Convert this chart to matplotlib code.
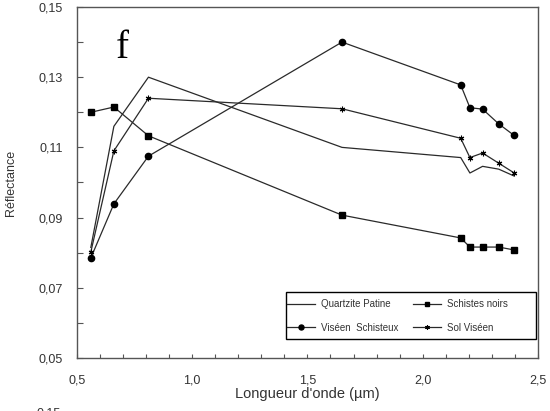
import matplotlib
matplotlib.use("Agg")
import matplotlib.pyplot as plt
from matplotlib.patches import Rectangle
from matplotlib.ticker import FixedLocator, MultipleLocator, FuncFormatter

# ASTER band centres (um) and reflectance of each surface
wavelength = [0.56, 0.66, 0.81, 1.65, 2.165, 2.205, 2.26, 2.33, 2.395]
quartzite_patine = [0.0815, 0.116, 0.130, 0.110, 0.1071, 0.1027, 0.1046, 0.1038, 0.1019]
schistes_noirs = [0.120, 0.1215, 0.1133, 0.0907, 0.0842, 0.0816, 0.0816, 0.0816, 0.0808]
viseen_schisteux = [0.0785, 0.0939, 0.1075, 0.140, 0.1278, 0.1213, 0.1209, 0.1167, 0.1135]
sol_viseen = [0.0802, 0.109, 0.124, 0.121, 0.1126, 0.1071, 0.1084, 0.1055, 0.1028]

y_major = [0.05, 0.07, 0.09, 0.11, 0.13, 0.15]
y_minor = [0.06, 0.08, 0.10, 0.12, 0.14]

line_col = "#2a2a2a"
axis_col = "#555555"
text_col = "#333333"

plt.rcParams["font.family"] = ["Liberation Sans", "DejaVu Sans"]

fig = plt.figure(figsize=(5.5, 4.11), dpi=100)
ax = fig.add_axes([0.14, 0.129, 0.838, 0.854])

l1, = ax.plot(wavelength, quartzite_patine, color=line_col, lw=0.9, label="Quartzite Patine")
l2, = ax.plot(wavelength, schistes_noirs, color=line_col, lw=0.9, marker="s", ms=4.2,
              mfc="black", mec="black", label="Schistes noirs")
l3, = ax.plot(wavelength, viseen_schisteux, color=line_col, lw=0.9, marker="o", ms=4.5,
              mfc="black", mec="black", label="Viséen  Schisteux")
l4, = ax.plot(wavelength, sol_viseen, color=line_col, lw=0.9, marker=(6, 2, 0), ms=4,
              mfc="black", mec="black", mew=0.8, label="Sol Viséen")

ax.set_xlim(0.5, 2.5)
ax.set_ylim(0.05, 0.15)
ax.xaxis.set_major_locator(MultipleLocator(0.5))
ax.xaxis.set_minor_locator(MultipleLocator(0.1))
ax.yaxis.set_major_locator(FixedLocator(y_major))
ax.yaxis.set_minor_locator(FixedLocator(y_minor))

comma = lambda fmt: FuncFormatter(lambda v, p: (fmt % v).replace(".", ","))
ax.xaxis.set_major_formatter(comma("%.1f"))
ax.yaxis.set_major_formatter(comma("%.2f"))

ax.tick_params(which="both", direction="in", colors=axis_col, labelcolor=text_col,
               top=False, right=False, labelsize=9)
ax.tick_params(axis="y", which="both", length=4, width=0.8, pad=10)
ax.tick_params(axis="x", which="both", length=3, width=0.8, pad=12)

for s in ax.spines.values():
    s.set_color(axis_col)
    s.set_linewidth(1.0)

ax.set_xlabel("Longueur d'onde (µm)", fontsize=10.5, color=text_col)
ax.set_ylabel("Réflectance", fontsize=9, color=text_col)
ax.xaxis.set_label_coords(0.5, -0.083)
ax.yaxis.set_label_coords(-0.130, 0.5)

ax.text(0.0976, 0.855, "f", transform=ax.transAxes, fontsize=28,
        family="Liberation Serif", ha="center", va="baseline", color="black")

# legend fills column-wise, so order handles to get two rows
leg = ax.legend([l1, l3, l2, l4],
                [l.get_label() for l in (l1, l3, l2, l4)],
                loc="upper left", bbox_to_anchor=(0.4555, 0.168),
                ncol=2, fontsize=7, frameon=False, borderpad=0, borderaxespad=0,
                handlelength=2.9, handletextpad=0.6,
                labelspacing=1.4, columnspacing=1.5, markerscale=0.8)
for t in leg.get_texts():
    t.set_color(text_col)

# box around the legend, wider than its entries
ax.add_patch(Rectangle((0.453, 0.054), 0.543, 0.134, transform=ax.transAxes,
                       fill=False, ec="black", lw=1.0, zorder=5))

# top of the next panel's axis label, cut by the lower edge
fig.text(0.067, 0.0073, "0,15", fontsize=9, color=text_col, va="top", ha="left")

fig.savefig("out.png", dpi=100)
